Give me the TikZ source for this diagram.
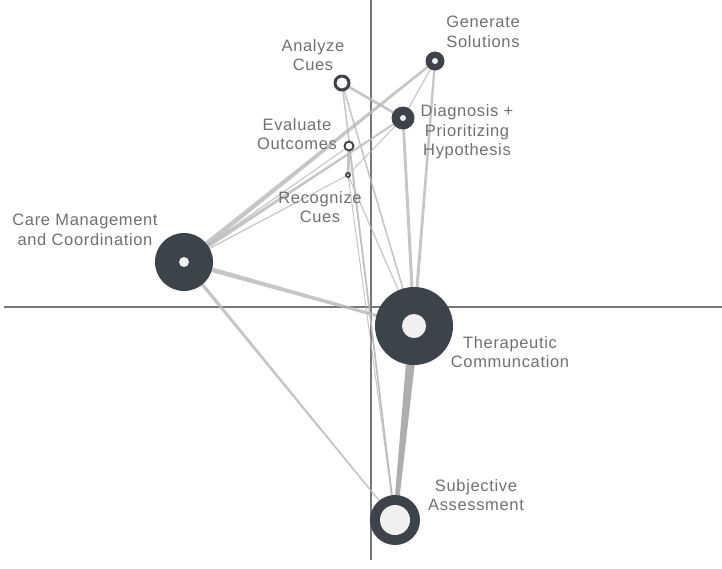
\documentclass[tikz,border=0pt]{standalone}
\usepackage{fontspec}
\setmainfont{Liberation Sans}[LetterSpace=4]
\usetikzlibrary{calc}
\definecolor{nodedark}{HTML}{3D434B}
\definecolor{nodein}{HTML}{F0F0F0}
\definecolor{edgecol}{HTML}{B8B8B8}
\definecolor{edgedark}{HTML}{9A9A9A}
\definecolor{axiscol}{HTML}{777777}
\definecolor{txtcol}{HTML}{707070}
\newcommand\tedge[5][edgecol]{\fill[#1,opacity=0.8] ($(#2.center)!#4!90:(#3.center)$) -- ($(#2.center)!#4!-90:(#3.center)$) -- ($(#3.center)!#5!90:(#2.center)$) -- ($(#3.center)!#5!-90:(#2.center)$) -- cycle;}
\begin{document}
\begin{tikzpicture}[x=1pt,y=-1pt,
  enanode/.style={circle,fill=nodedark,inner sep=0pt,minimum size=#1},
  lbl/.style={text=txtcol,font=\fontsize{16.5}{19.5}\selectfont,align=center,inner sep=0pt}]
\useasboundingbox (0,0) rectangle (722,568);
% axes
\coordinate (axL) at (4,307);
\coordinate (axR) at (722,307);
\coordinate (axT) at (371,0);
\coordinate (axB) at (371,560);
\draw[axiscol,line width=1.5pt] (axL) -- (axR);
\draw[axiscol,line width=1.5pt] (axT) -- (axB);
% node positions
\coordinate (ana) at (342,83);
\coordinate (gen) at (435,61);
\coordinate (diag) at (403,118);
\coordinate (eval) at (349,146);
\coordinate (rec) at (348,175);
\coordinate (care) at (184,262);
\coordinate (ther) at (414,326);
\coordinate (subj) at (395,520);
% edges
\tedge{care}{gen}{2.6pt}{1.2pt}
\tedge{care}{diag}{1.8pt}{0.9pt}
\tedge{care}{eval}{0.7pt}{0.5pt}
\tedge{care}{rec}{0.7pt}{0.5pt}
\tedge{care}{ther}{2.5pt}{1.3pt}
\tedge{care}{subj}{1.8pt}{0.6pt}
\tedge{ana}{diag}{1.3pt}{1.3pt}
\tedge{ana}{ther}{0.8pt}{0.8pt}
\tedge{ana}{subj}{0.8pt}{0.8pt}
\tedge{gen}{ther}{1.1pt}{1.6pt}
\tedge{diag}{ther}{1.4pt}{1.6pt}
\tedge{gen}{diag}{0.6pt}{0.6pt}
\tedge{diag}{rec}{0.5pt}{0.5pt}
\tedge{eval}{rec}{1.5pt}{1.5pt}
\tedge{rec}{ther}{0.6pt}{0.6pt}
\tedge{rec}{subj}{0.5pt}{0.5pt}
\tedge{eval}{subj}{0.5pt}{0.5pt}
\tedge[edgedark]{ther}{subj}{5pt}{2pt}
% nodes
\node[enanode=17pt] (nana) at (ana) {};
\fill[white] (ana) circle (5.5pt);
\node[enanode=19pt] (ngen) at (gen) {};
\fill[nodein] (gen) circle (3pt);
\node[enanode=23pt] (ndiag) at (diag) {};
\fill[nodein] (diag) circle (3pt);
\node[enanode=11pt] (neval) at (eval) {};
\fill[white] (eval) circle (3.3pt);
\node[enanode=6pt] (nrec) at (rec) {};
\fill[nodein] (rec) circle (1.2pt);
\node[enanode=58pt] (ncare) at (care) {};
\fill[nodein] (care) circle (5pt);
\node[enanode=78pt] (nther) at (ther) {};
\fill[nodein] (ther) circle (12pt);
\node[enanode=50pt] (nsubj) at (subj) {};
\fill[nodein] (subj) circle (15pt);
% labels
\node[lbl] (tana) at (313,55) {Analyze\\Cues};
\node[lbl] (tgen) at (483,32) {Generate\\Solutions};
\node[lbl] (tdiag) at (467,132) {Diagnosis +\\Prioritizing\\Hypothesis};
\node[lbl] (teval) at (297,134) {Evaluate\\Outcomes};
\node[lbl] (trec) at (320,207) {Recognize\\Cues};
\node[lbl] (tcare) at (85,230) {Care Management\\and Coordination};
\node[lbl] (tther) at (510,352) {Therapeutic\\Communcation};
\node[lbl] (tsubj) at (476,495) {Subjective\\Assessment};
\end{tikzpicture}
\end{document}
